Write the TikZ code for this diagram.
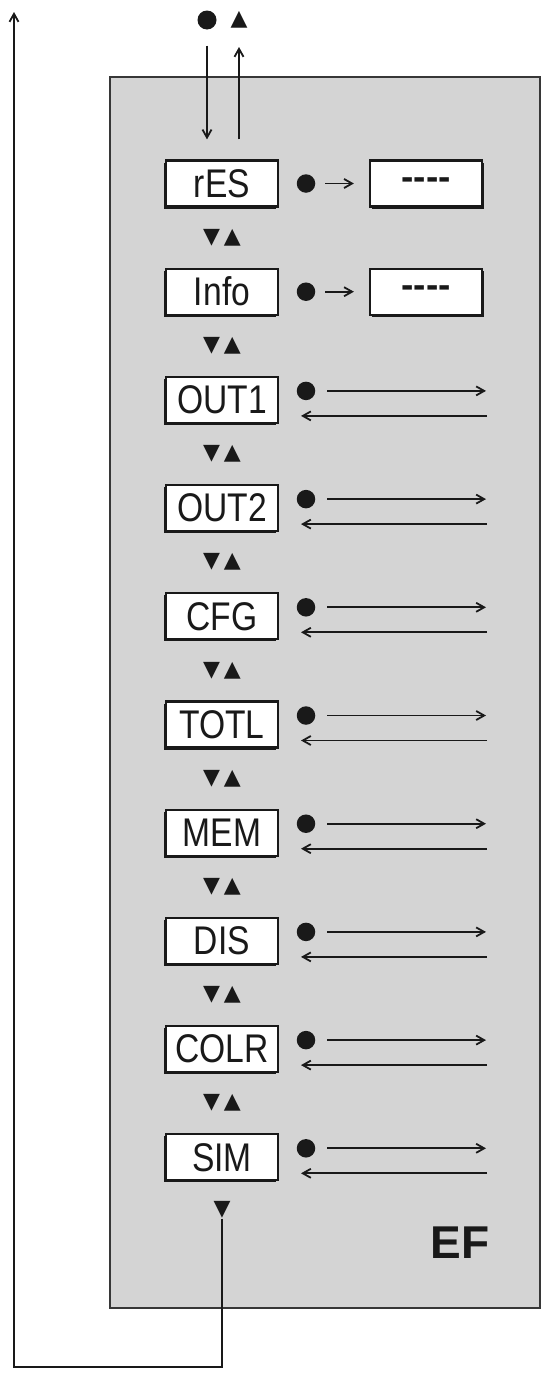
\documentclass[tikz,border=0pt]{standalone}
\usepackage{fontspec}
\setmainfont{Liberation Sans}
\newfontfamily\narrowfont[FakeStretch=0.84]{Liberation Sans}
\newfontfamily\symfont{DejaVu Sans}
\usetikzlibrary{arrows.meta,shadows}
\definecolor{panelgray}{RGB}{212,212,212}
\definecolor{edgegray}{RGB}{55,55,55}
\definecolor{inkc}{RGB}{25,25,25}
\begin{document}
\begin{tikzpicture}[x=1pt,y=-1pt,
  menubox/.style={draw=inkc, line width=2.2pt, fill=white, minimum width=112pt,
    minimum height=46pt, inner sep=0pt, text=inkc,
    font=\narrowfont\fontsize{40}{42}\selectfont,
    drop shadow={shadow xshift=-2pt, shadow yshift=-2pt, shadow scale=1, fill=inkc, opacity=1}},
  valbox/.style={draw=inkc, line width=2.2pt, fill=white, minimum width=112pt,
    minimum height=46pt, inner sep=0pt, text=inkc,
    font=\bfseries\fontsize{37}{40}\selectfont,
    drop shadow={shadow xshift=2pt, shadow yshift=-2pt, shadow scale=1, fill=inkc, opacity=1}},
  dotnode/.style={circle, fill=inkc, minimum size=18.5pt, inner sep=0pt},
  pairnode/.style={inner sep=0pt, text=inkc, font=\symfont\fontsize{22}{24}\selectfont},
  conn/.style={line width=1.8pt, draw=inkc, -{Straight Barb[length=8pt,width=9pt]}},
  panel/.style={draw=edgegray, line width=2pt, fill=panelgray}
]
\useasboundingbox (0,0) rectangle (546,1376);
\fill[white] (0,0) rectangle (546,1376);
% panel
\draw[panel] (110,77) rectangle (540,1308);
% menu boxes
\foreach \lab [count=\i from 0] in {rES,Info,OUT1,OUT2,CFG,TOTL,MEM,DIS,COLR,SIM}{
  \pgfmathsetmacro\cy{183.5+108.2*\i}
  \node[menubox] (b\i) at (222,\cy) {\lab};
}
% rows with value boxes
\foreach \i in {0,1}{
  \pgfmathsetmacro\cy{183.5+108.2*\i}
  \node[dotnode] (d\i) at (306,\cy) {};
  \node[valbox] (v\i) at (426,\cy) {\raisebox{-3pt}{-{}-{}-{}-}};
  \draw[conn, shorten <=10pt, shorten >=15pt] (d\i) -- (v\i);
}
% rows with double arrows
\foreach \i in {2,...,9}{
  \pgfmathsetmacro\cy{183.5+108.2*\i}
  \node[dotnode] (d\i) at (306,\cy-9) {};
  \coordinate (ra\i) at (486,\cy-9);
  \coordinate (la\i) at (487,\cy+16);
  \coordinate (lt\i) at (301,\cy+16);
  \draw[conn, shorten <=12pt] (d\i) -- (ra\i);
  \draw[conn] (la\i) -- (lt\i);
}
% up/down pairs
\foreach \i in {0,...,8}{
  \pgfmathsetmacro\cy{183.5+108.2*\i+54}
  \node[pairnode] (p\i) at (222,\cy) {▼\hspace{4pt}▲};
}
\node[pairnode] (lastdown) at (222,1210) {▼};
% top entry
\node[dotnode, minimum size=19pt] (topdot) at (207,20) {};
\node[pairnode] (topup) at (239,20) {▲};
\coordinate (uptip) at (239,47);
\draw[conn, shorten <=16pt, shorten >=20pt] (topdot) -- (topdot |- b0.north);
\draw[conn, shorten <=20pt] (topup |- b0.north) -- (uptip);
% loop back
\coordinate (loopcorner) at (14,1367);
\coordinate (looptip) at (14,12);
\draw[conn] (lastdown.south) |- (loopcorner) -- (looptip);
% label
\node[inner sep=0pt, text=inkc, font=\bfseries\fontsize{46}{48}\selectfont] (ef) at (460,1243) {EF};
\end{tikzpicture}
\end{document}
